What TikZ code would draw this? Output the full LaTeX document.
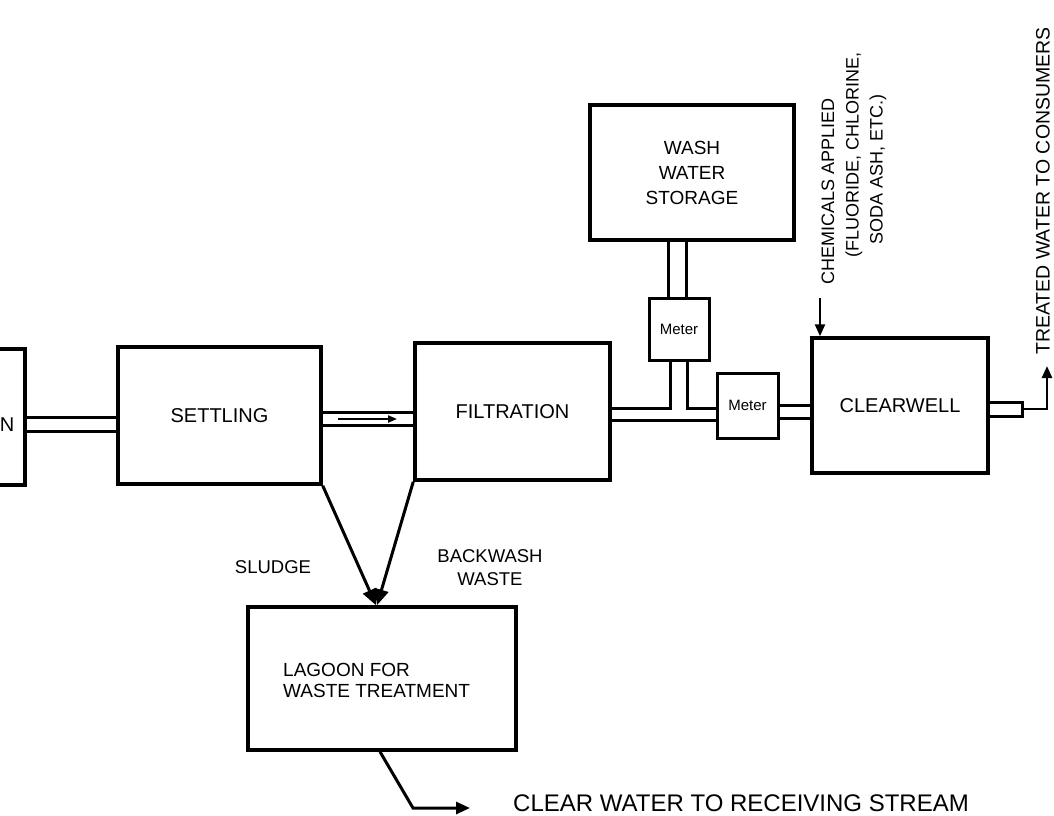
\documentclass[tikz,border=0pt]{standalone}
\usepackage{fontspec}
\setmainfont{Liberation Sans}
\usetikzlibrary{arrows.meta,calc}
\begin{document}
\begin{tikzpicture}[x=1pt,y=-1pt,
  box/.style={draw, line width=3.5pt, inner sep=0pt, align=center, font=\fontsize{20}{24}\selectfont},
  pipe/.style={line width=3pt},
  lbl/.style={inner sep=0pt, align=center, font=\fontsize{19}{23}\selectfont},
  flow/.style={line width=3pt, -{Triangle[length=16pt,width=14pt]}},
  thinflow/.style={line width=2.5pt, -{Triangle[length=12pt,width=10pt]}}]
\useasboundingbox (0,0) rectangle (1054,815);
\clip (0,0) rectangle (1054,815);
% boxes
\node[box, minimum width=250pt, minimum height=136pt] (coag) at (-100,417) {};
\node[lbl, font=\fontsize{20}{24}\selectfont] (coagtxt) at (7,425) {N};
\node[box, minimum width=203pt, minimum height=137pt] (settle) at (219.5,415.5) {SETTLING};
\node[box, minimum width=195pt, minimum height=137pt] (filt) at (512.5,411.5) {FILTRATION};
\node[box, minimum width=204pt, minimum height=135pt, font=\fontsize{19}{25}\selectfont] (wash) at (692,172.5) {WASH\\WATER\\STORAGE};
\node[box, line width=3pt, minimum width=60pt, minimum height=62pt, font=\fontsize{15}{18}\selectfont] (meter1) at (679,329) {Meter};
\node[box, line width=3pt, minimum width=61pt, minimum height=65pt, font=\fontsize{15}{18}\selectfont] (meter2) at (747.5,405.5) {Meter};
\node[box, minimum width=176pt, minimum height=135pt] (clear) at (900,405.5) {CLEARWELL};
\node[box, minimum width=268pt, minimum height=143pt] (lagoon) at (382,678.5) {};
\node[lbl, anchor=west, align=left, font=\fontsize{19}{21}\selectfont] (lagtxt) at (283,680) {LAGOON FOR\\WASTE TREATMENT};
% pipes
\draw[pipe] (coag.east|-0,417) -- (settle.west|-0,417);
\draw[pipe] (coag.east|-0,431) -- (settle.west|-0,431);
\draw[pipe] (settle.east|-0,412) -- (filt.west|-0,412);
\draw[pipe] (settle.east|-0,425) -- (filt.west|-0,425);
\coordinate (fa) at (338,419);
\coordinate (fb) at (397,419);
\draw[line width=2pt, -{Triangle[length=9pt,width=7pt]}] (fa) -- (fb);
\draw[pipe] (filt.east|-0,420) -- (meter2.west|-0,420);
\draw[pipe] (filt.east|-0,408) -- (670,408) -- (meter1.south-|670,0);
\draw[pipe] (meter1.south-|687,0) -- (687,408) -- (meter2.west|-0,408);
\draw[pipe] (wash.south-|668,0) -- (meter1.north-|668,0);
\draw[pipe] (wash.south-|686,0) -- (meter1.north-|686,0);
\draw[pipe] (meter2.east|-0,405) -- (clear.west|-0,405);
\draw[pipe] (meter2.east|-0,418) -- (clear.west|-0,418);
\draw[pipe] (clear.east|-0,402) -- (1022,402) -- (1022,416) -- (clear.east|-0,416);
% outlet to consumers
\coordinate (outend) at (1022,409);
\coordinate (treatTip) at (1047,366);
\draw[thinflow] (outend) -- (1047,409) -- (treatTip);
\node[lbl, rotate=90, anchor=west, font=\fontsize{19.5}{22}\selectfont] (treat) at (1043,355) {TREATED WATER TO CONSUMERS};
% chemicals
\coordinate (chemtop) at (820,298);
\draw[thinflow] (chemtop) -- (clear.north-|820,0);
\node[lbl, rotate=90, anchor=west, font=\fontsize{18}{20}\selectfont] (chem1) at (828,285) {CHEMICALS APPLIED};
\node[lbl, rotate=90, anchor=west, font=\fontsize{18}{20}\selectfont] (chem2) at (854,258) {(FLUORIDE, CHLORINE,};
\node[lbl, rotate=90, anchor=west, font=\fontsize{18}{20}\selectfont] (chem3) at (878,245) {SODA ASH, ETC.)};
% waste
\draw[flow] (settle.south east) -- ([xshift=-6pt]lagoon.north);
\draw[flow] (filt.south west) -- ([xshift=-5pt]lagoon.north);
\node[lbl, font=\fontsize{18.5}{23}\selectfont] (sludge) at (273,567) {SLUDGE};
\node[lbl, font=\fontsize{18.5}{23}\selectfont] (bw) at (490,568) {BACKWASH\\WASTE};
% outflow
\coordinate (outTip) at (470,808);
\draw[line width=3pt, -{Triangle[length=14pt,width=12pt]}] (lagoon.south-|380,0) -- (413,808) -- (outTip);
\node[lbl, anchor=west, font=\fontsize{24}{28}\selectfont] (cw) at (513,803) {CLEAR WATER TO RECEIVING STREAM};
\end{tikzpicture}
\end{document}
